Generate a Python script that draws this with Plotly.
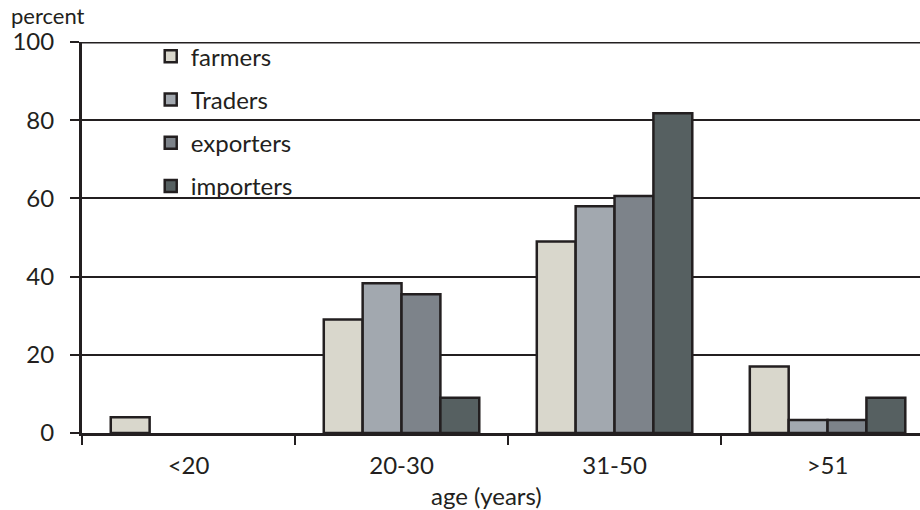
import plotly.graph_objects as go

categories = ["<20", "20-30", "31-50", ">51"]
farmers = [4, 29, 49, 17]
traders = [0, 38.3, 58, 3.3]
exporters = [0, 35.5, 60.6, 3.3]
importers = [0, 9, 81.8, 9]
y_ticks = [0, 20, 40, 60, 80, 100]

series = [
    ("farmers", farmers, "#d9d7cc"),
    ("Traders", traders, "#a2a8af"),
    ("exporters", exporters, "#7d838a"),
    ("importers", importers, "#566061"),
]

FONT = "Lato"
FS = 24
fig = go.Figure()
for name, vals, col in series:
    fig.add_trace(go.Bar(
        x=categories, y=[v if v else None for v in vals], name=name,
        marker=dict(color=col, line=dict(color="#231f20", width=2.5)),
        legendgroup=name,
    ))

fig.update_layout(
    width=920, height=510,
    margin=dict(l=82, r=0, t=42, b=77),
    paper_bgcolor="white", plot_bgcolor="white",
    barmode="group", bargap=0.27, bargroupgap=0,
    font=dict(family=FONT, size=FS, color="#231f20"),
    showlegend=True,
    legend=dict(
        x=0.082, y=1.02, xanchor="left", yanchor="top",
        bgcolor="rgba(0,0,0,0)", tracegroupgap=9,
        font=dict(family=FONT, size=FS), itemwidth=30,
    ),
    xaxis=dict(
        range=[-0.5, 3.434], showgrid=False,
        showline=True, linecolor="#231f20", linewidth=3,
        ticks="outside", tickson="boundaries", ticklen=9, tickwidth=2,
        tickcolor="#231f20", ticklabelstandoff=9,
        tickfont=dict(family=FONT, size=FS),
    ),
    yaxis=dict(
        range=[0, 100], tickvals=y_ticks,
        showgrid=True, gridcolor="#231f20", gridwidth=2,
        showline=True, linecolor="#231f20", linewidth=3,
        ticks="outside", ticklen=9, tickwidth=2, tickcolor="#231f20",
        zeroline=False, ticklabelstandoff=11,
        tickfont=dict(family=FONT, size=FS),
    ),
    shapes=[dict(type="line", xref="paper", yref="y", x0=0, x1=1, y0=100, y1=100,
                 line=dict(color="#231f20", width=3), layer="above")],
    annotations=[
        dict(text="percent", xref="paper", yref="paper", x=-0.0875, y=1.069,
             xanchor="left", yanchor="middle", showarrow=False,
             font=dict(family=FONT, size=22)),
        dict(text="age (years)", xref="paper", yref="paper", x=0.483, y=-0.118,
             xanchor="center", yanchor="top", showarrow=False,
             font=dict(family=FONT, size=FS)),
    ],
)

fig.write_html("out.html")
